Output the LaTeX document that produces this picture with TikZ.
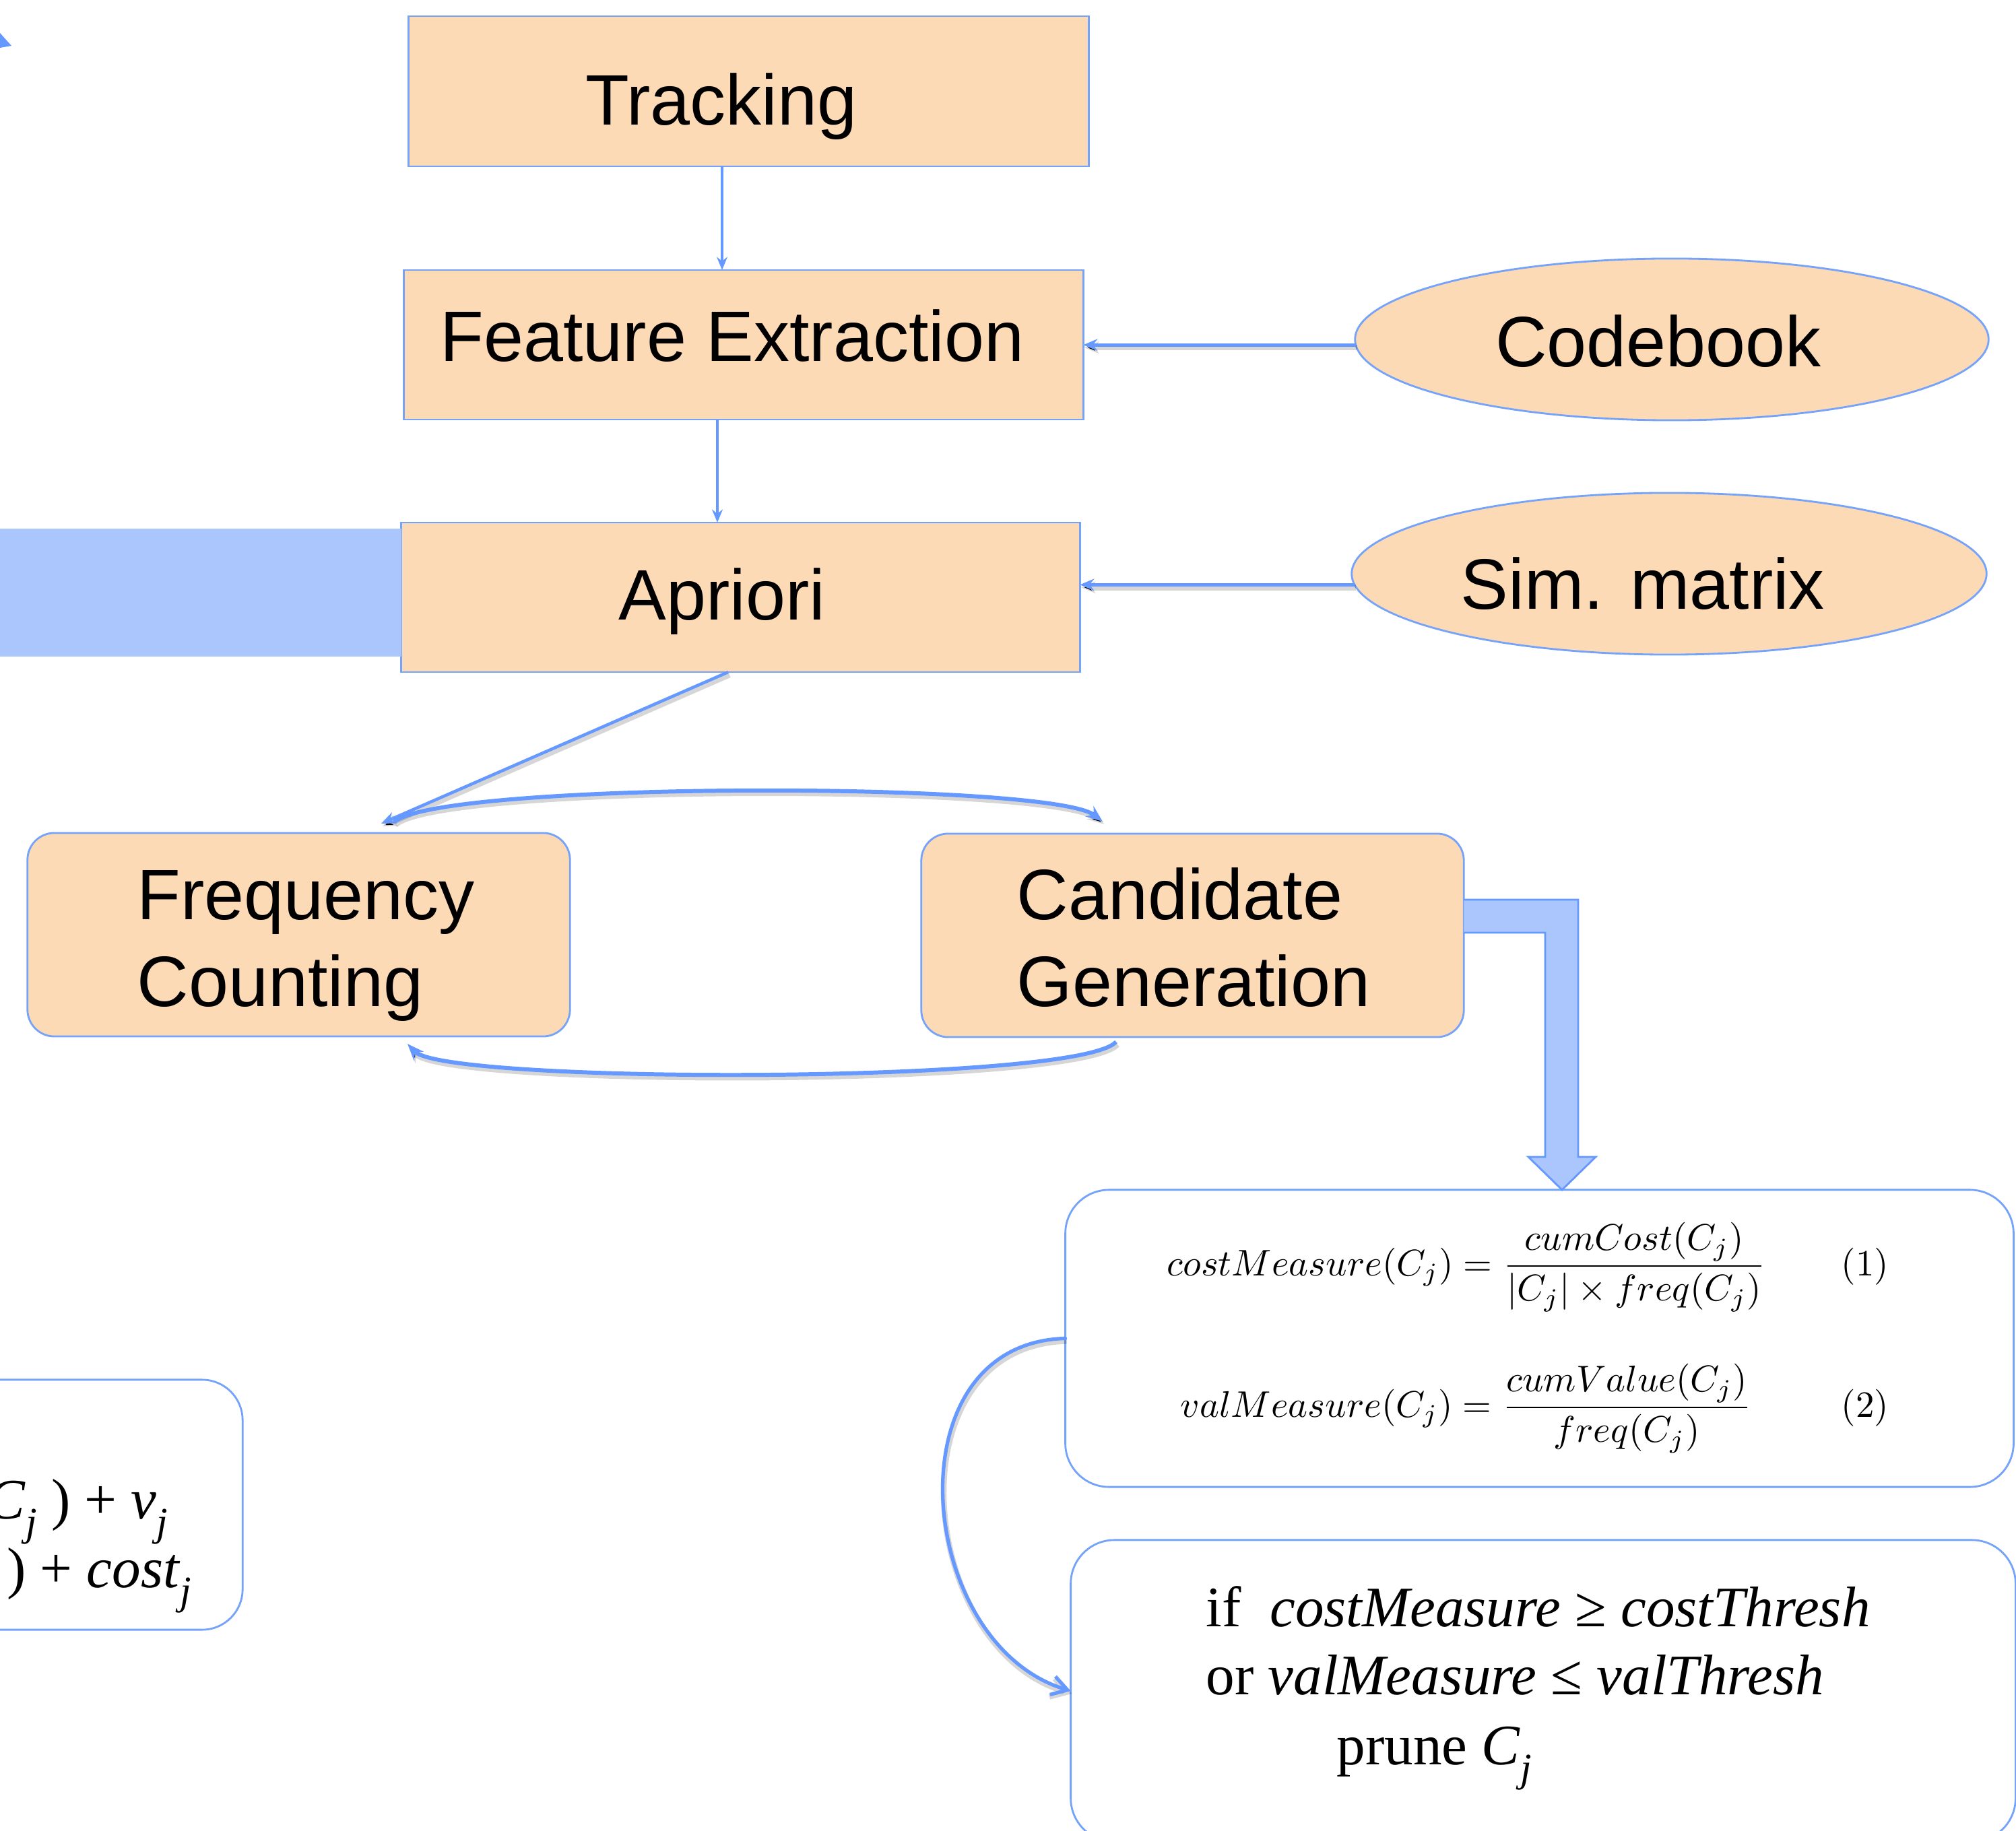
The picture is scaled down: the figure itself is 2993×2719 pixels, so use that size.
\documentclass[tikz,border=0pt]{standalone}
\usepackage[no-math]{fontspec}
\usepackage{graphicx}
\newfontfamily\arialf{Liberation Sans}
\newfontfamily\timesf{Liberation Serif}
\usetikzlibrary{shapes.geometric,arrows.meta,calc}
\definecolor{peach}{RGB}{252,218,182}
\definecolor{lblue}{RGB}{102,153,255}
\definecolor{bordblue}{RGB}{118,163,250}
\definecolor{fblue}{RGB}{170,198,252}
\newcommand{\tsub}[1]{\raisebox{-0.3em}{\fontsize{17}{17}\selectfont\itshape #1}}
\begin{document}
\begin{tikzpicture}[x=0.01cm,y=-0.01cm,
  box/.style={draw=bordblue, line width=0.8pt, fill=peach, inner sep=0pt, outer sep=0pt},
  rbox/.style={box, rounded corners=0.4cm},
  ell/.style={box, ellipse},
  wbox/.style={draw=bordblue, line width=0.8pt, fill=white, inner sep=0pt, outer sep=0pt},
  lbl/.style={font=\arialf\fontsize{30.16}{36}\selectfont, inner sep=0pt, text=black},
  tms/.style={font=\timesf\fontsize{24.2}{29}\selectfont, inner sep=0pt, text=black},
  mth/.style={inner sep=0pt, text=black},
  shadowed/.style={preaction={draw=black, draw opacity=0.16, line width=2.4pt, transform canvas={shift={(2,4)}}}},
  thinarr/.style={draw=lblue, line width=1.1pt, -{Stealth[length=5.5pt,width=4.5pt]}},
  medarr/.style={draw=lblue, line width=1.4pt, -{Stealth[length=6pt,width=5pt]}},
  curvarr/.style={draw=lblue, line width=1.7pt, -{Stealth[length=7pt,width=5.5pt]}},
  looparr/.style={draw=lblue, line width=1.5pt, line cap=round, -{Straight Barb[length=6.5pt,width=8pt]}}
]
\useasboundingbox (0,0) rectangle (2993,2719);
\clip (0,0) rectangle (2993,2719);

% partial shapes at the left edge
\fill[lblue] (0,49) -- (17,68) -- (0,71) -- cycle;

% main boxes
\node[box, minimum width=10.09cm, minimum height=2.23cm] (trk) at (1111.5,135.5) {};
\node[box, minimum width=10.08cm, minimum height=2.22cm] (fe) at (1104,512) {};
\node[box, minimum width=10.07cm, minimum height=2.22cm] (ap) at (1099.5,887) {};
\fill[fblue] (0,785) rectangle ($(ap.west)+(0,88.5)$);
\node[ell, minimum width=9.40cm, minimum height=2.40cm] (cb) at (2482,504) {};
\node[ell, minimum width=9.42cm, minimum height=2.40cm] (sim) at (2478,852) {};
\node[rbox, minimum width=8.05cm, minimum height=3.02cm] (fc) at (443.5,1388) {};
\node[rbox, minimum width=8.05cm, minimum height=3.02cm] (cg) at (1770.5,1389) {};
\node[wbox, rounded corners=0.65cm, minimum width=14.07cm, minimum height=4.41cm] (eq) at (2285.5,1987.5) {};
\node[wbox, rounded corners=0.65cm, minimum width=14.02cm, minimum height=4.48cm] (pr) at (2291,2511) {};
\node[wbox, rounded corners=0.6cm, minimum width=5.60cm, minimum height=3.71cm] (lb) at (80,2234.5) {};

% block arrow from Candidate Generation down to the formula box
\filldraw[fill=fblue, draw=lblue, line width=0.8pt]
  ($(cg.east)+(0,-53)$) -- (2343,1336) -- (2343,1718) -- (2369,1718)
  -- ($(eq.north)+(33.5,0)$) -- (2269,1718) -- (2294,1718) -- (2294,1385)
  -- ($(cg.east)+(0,-4)$);

% labels
\node[lbl, anchor=base] (ttrk) at (1071,186) {Tracking};
\node[lbl, anchor=base] (tfe) at (1087,537) {Feature Extraction};
\node[lbl, anchor=base] (tap) at (1072,921) {Apriori};
\node[lbl, anchor=base] (tcb) at (2462,545) {Codebook};
\node[lbl, anchor=base] (tsim) at (2439,905) {Sim. matrix};
\node[lbl, anchor=base west] (tfc1) at (203,1366) {Frequency};
\node[lbl, anchor=base west] (tfc2) at (203,1494) {Counting};
\node[lbl, anchor=base west] (tcg1) at (1509,1366) {Candidate};
\node[lbl, anchor=base west] (tcg2) at (1509,1494) {Generation};

% formulas
\node[mth, anchor=base west] (f1) at (1732,1894)
  {\scalebox{1.565}{$\displaystyle costMeasure(C_j)=\frac{cumCost(C_j)}{|C_j|\times freq(C_j)}$}};
\node[mth, anchor=base west] (f2) at (1752,2104)
  {\scalebox{1.565}{$\displaystyle valMeasure(C_j)=\frac{cumValue(C_j)}{freq(C_j)}$}};
\node[mth, anchor=base] (n1) at (2769,1894) {\scalebox{1.565}{(1)}};
\node[mth, anchor=base] (n2) at (2769,2104) {\scalebox{1.565}{(2)}};

% prune rule
\node[tms, anchor=base west] (p1) at (1790,2415) {if\ \ \textit{costMeasure} ≥ \textit{costThresh}};
\node[tms, anchor=base west] (p2) at (1790,2516) {or \textit{valMeasure} ≤ \textit{valThresh}};
\node[tms, anchor=base west] (p3) at (1984,2620) {prune \textit{C}\tsub{j}};

% partial update box
\node[tms, anchor=base east] (lb1) at (250,2255) {\textit{C}\tsub{j} ) + \textit{v}\tsub{j}};
\node[tms, anchor=base east] (lb2) at (285,2357) {) + \textit{cost}\tsub{j}};

% connectors
\draw[thinarr] ($(trk.south)+(-39.5,0)$) -- ($(fe.north)+(-32,0)$);
\draw[thinarr] ($(fe.south)+(-39,0)$) -- ($(ap.north)+(-34.5,0)$);
\draw[medarr, shadowed] (cb.181) -- (fe.east |- cb.181);
\draw[medarr, shadowed] (sim.182.3) -- (ap.east |- sim.182.3);
\draw[medarr, line width=1.3pt, shadowed] ($(ap.south)+(-18.5,0)$) -- ($(fc.north)+(122.5,-14)$);
\draw[curvarr, shadowed] ($(fc.north)+(141.5,-16)$) .. controls +(65,-61) and +(-77,-60) .. ($(cg.north)+(-133.5,-18)$);
\draw[curvarr, shadowed] ($(cg.south)+(-113.5,7)$) .. controls +(-57,63) and +(55,60) .. ($(fc.south)+(161.5,11)$);
\draw[looparr, shadowed] (eq.west) .. controls +(-262,7) and +(-231,-69) .. (pr.west);
\end{tikzpicture}
\end{document}
